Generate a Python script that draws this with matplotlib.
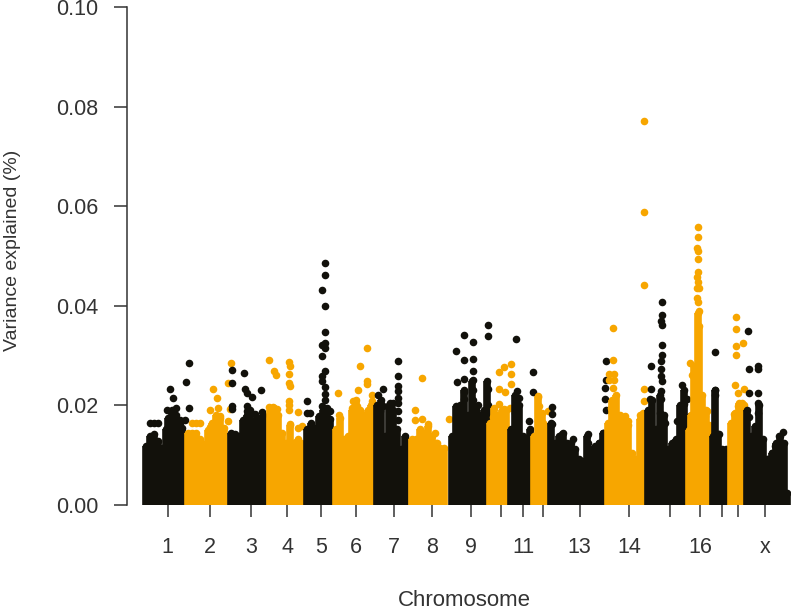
import matplotlib
matplotlib.use('Agg')
import matplotlib.pyplot as plt

# colours
black = '#12110b'
orange = '#f7a600'

# tick positions along the genome axis and their labels
tick_pos = [167.7, 210, 250.7, 287, 321, 356, 394, 432, 471.3, 500.7, 523.3, 542.7,
            579.7, 629, 669.7, 700.3, 721.7, 738.3, 765]
tick_lab = ['1', '2', '3', '4', '5', '6', '7', '8', '9', '', '11', '',
            '13', '14', '', '16', '', '', 'x']

# upper edge of the dense cloud per chromosome: (position, variance*1000)
chr1_top = [(146, 11.9), (150, 13.9), (154, 14.2), (158, 12.9), (162, 11.5), (166, 15.2), (168, 17.5), (172, 19), (176, 18), (180, 17), (182, 15.5)]
chr2_top = [(188, 14.5), (192, 14.5), (196, 14.4), (200, 13.2), (204, 12.2), (208, 15), (212, 16.5), (216, 18), (220, 17.5), (224, 15.5)]
chr3_top = [(231, 14.5), (235, 14.2), (239, 13.9), (243, 17), (247, 18), (250, 19), (255, 17), (258, 17.5), (263, 18)]
chr4_top = [(270, 19), (274, 19.5), (278, 18), (282, 14.5), (286, 12.5), (290, 16), (294, 12.5), (298, 13.2), (301, 12.5)]
chr5_top = [(307, 15.2), (311, 16.5), (315, 15.5), (319, 17.9), (323, 19), (327, 19.5), (330, 17.2)]
chr6_top = [(336, 15.2), (340, 17.5), (344, 13.2), (348, 13.9), (352, 19), (356, 21), (360, 19), (364, 18), (368, 19), (371, 20)]
chr7_top = [(377, 20), (381, 21), (385, 13.9), (389, 20), (393, 19), (397, 15.2), (401, 11.2), (405, 13.9)]
chr8_top = [(412, 13.2), (416, 13.2), (420, 15.2), (424, 14.5), (428, 15.9), (432, 13.9), (436, 12.5), (440, 11.5), (444, 11.5)]
chr9_top = [(452, 13.9), (456, 19.8), (460, 20), (464, 23), (468, 18), (472, 25), (476, 19), (480, 18), (484, 19), (487, 25)]
chr10_top = [(490, 16.5), (494, 19.5), (498, 18), (502, 19), (506, 19)]
chr11_top = [(511, 15.2), (515, 22), (519, 20), (523, 13.9), (527, 13.2), (530, 15.2)]
chr12_top = [(534, 13.9), (538, 21.9), (542, 18.5), (546, 15.9)]
chr13_top = [(551, 16.5), (555, 12.5), (559, 13.9), (563, 14.5), (567, 12.5), (571, 12.5), (575, 11.2), (579, 9.2), (583, 8.5), (587, 13.9), (591, 11.2), (595, 11.9), (599, 12.5), (603, 14.5)]
chr14_top = [(608, 16.5), (612, 21), (616, 22), (620, 18), (624, 17.5), (628, 16), (632, 10.5), (636, 9.2), (640, 17.2), (643, 18.5)]
chr15_top = [(648, 19), (652, 21), (656, 15.2), (660, 22), (664, 18), (668, 11.2), (672, 12.5), (676, 13.2), (680, 20), (684, 23)]
chr16_top = [(689, 15), (691, 18), (694, 28), (697.5, 38.5), (699, 36), (702, 22), (706, 19), (709, 16)]
chr17_top = [(713, 13.9), (715, 23), (718, 14.2), (722, 11.2), (726, 11.2)]
chr18_top = [(731, 16.5), (735, 18.5), (739, 20.5), (742, 20.5)]
chr19_top = [(747, 19), (751, 13.9), (755, 15.9), (759, 20), (763, 13.2)]
chrx_top = [(768, 9.2), (772, 10.5), (776, 12.5), (780, 13.9), (784, 12.5), (787, 2.5)]

# isolated points above the cloud
chr1_pts = [(189, 28.6), (186, 24.6), (170, 23.2), (173, 21.5), (189, 19.5), (167, 19), (176, 19.5), (172, 18.2), (150, 16.5), (154, 16.5), (158, 16.5), (185, 17), (180, 16.5), (173, 17)]
chr2_pts = [(213, 23.2), (217, 21.5), (210, 19), (218, 19.5), (192, 16.5), (196, 16.5), (200, 16.4), (220, 17.9), (228, 16.9), (210, 15.7), (217, 17.2), (228, 24.5), (231, 28.5), (230, 19.3)]
chr3_pts = [(232, 27.2), (232, 24.4), (244, 26.6), (245, 23.2), (247, 22.5), (252, 21.7), (261, 23), (232, 19.9), (232, 19.2), (247, 19.9), (245, 17.2), (255, 18.2), (262, 18.7), (247, 18.9)]
chr4_pts = [(269, 29.1), (269, 19.7), (274, 26.9), (276, 26.1), (289, 28.7), (290, 28), (289, 26.3), (289, 24.4), (290, 23.9), (289, 20.9), (289, 20), (298, 18.7), (289, 19), (273, 19.7), (277, 19.2), (298, 15.5), (302, 15.9), (290, 16.2)]
chr5_pts = [(325, 48.6), (325, 46.2), (322, 43.2), (325, 40), (325, 34.8), (325, 32.5), (322, 32.2), (325, 31.5), (322, 30), (325, 27), (322, 26), (322, 25), (325, 23.7), (325, 22.2), (325, 21), (307, 20.9), (307, 18.5), (310, 18.5), (322, 19.9), (330, 18.9)]
chr6_pts = [(367, 31.6), (360, 28), (367, 24.9), (367, 24.2), (358, 23), (338, 22.4), (372, 22), (372, 20.9), (353, 20.9), (339, 18), (357, 19.9), (372, 19.2), (352, 19.5)]
chr7_pts = [(398, 28.9), (398, 26), (398, 23.8), (398, 22.9), (383, 23.3), (378, 22.1), (398, 21.5), (390, 20.5), (393, 20.5), (398, 20.5), (383, 19.9), (390, 19.5), (398, 18.9), (398, 17), (380, 18.9)]
chr8_pts = [(422, 25.5), (415, 19), (415, 17), (422, 17.3), (428, 16.3), (435, 14.5), (449, 17.3), (437, 12.5)]
chr9_pts = [(456, 31), (457, 24.6), (464, 34.2), (473, 32.8), (488, 36.2), (488, 34), (464, 29.1), (473, 29.4), (473, 26.9), (464, 25.4), (473, 25.2), (464, 22.6), (473, 23), (473, 21), (464, 21.2), (473, 20), (478, 20), (485, 18.5), (488, 23.2), (488, 20)]
chr10_pts = [(499, 26.7), (504, 27.8), (511, 28.4), (511, 26.3), (511, 24.3), (499, 23.3), (505, 22.7), (499, 20.2), (504, 19.2), (510, 19.5), (493, 17.7), (502, 18.9)]
chr11_pts = [(516, 33.4), (517, 22.9), (519, 21.5), (517, 20.2), (529, 16.9), (515, 18.5), (533, 26.7), (533, 22.7)]
chr12_pts = [(538, 21.7), (539, 19.9), (540, 18.5), (548, 18.9), (543, 16.5)]
chr13_pts = [(552, 19.7), (552, 18.3), (552, 16.2), (562, 14.3), (573, 13.2), (588, 14.2), (588, 12.5), (599, 12.5), (603, 14.5), (582, 8.9), (592, 10.9), (606, 29), (606, 25.2), (605, 23.5), (605, 21.2), (606, 19)]
chr14_pts = [(613, 35.6), (613, 29.1), (609, 26.3), (614, 26.3), (609, 25.2), (614, 25.2), (613, 23.5), (614, 20.4), (611, 19.5), (625, 17.9), (628, 16.9), (644, 77.1), (644, 58.8), (644, 44.1), (644, 23.2), (644, 20.9), (643, 18.1), (640, 18.1), (634, 9.2)]
chr15_pts = [(662, 40.8), (662, 38.1), (661, 37), (662, 36.1), (662, 32.1), (662, 30.2), (661, 28.9), (661, 27.3), (661, 25.9), (662, 24.9), (661, 22.9), (661, 21.2), (651, 28), (651, 23.3), (650, 21.2), (650, 18.5), (660, 18.5), (665, 16.5), (682, 24), (687, 21.2), (684, 20.2), (677, 16.9), (690, 17.9)]
chr16_pts = [(697.7, 55.9), (697.7, 53.9), (696.5, 51.7), (697.7, 51.1), (697.7, 49.4), (697.7, 46.8), (696.5, 45.8), (697.5, 44.8), (696.5, 43.5), (698.5, 43.5), (696.5, 41.5), (697.5, 40.7), (698.5, 39), (690, 28.6), (692, 26.1), (707, 18.9), (705, 17.9)]
chr17_pts = [(715, 30.8), (715, 23), (715, 22), (719, 14.2)]
chr18_pts = [(735.7, 37.8), (735.7, 35.3), (735.7, 31.9), (735.7, 30.2), (742.7, 32.5), (735, 24), (738, 22.5), (744, 23.3), (738, 19.9), (744, 20), (734, 18.2)]
chr19_pts = [(748, 35), (749, 27.3), (758, 27.9), (758, 27.3), (749, 22.4), (758, 22.5), (758, 20.4), (749, 17.7), (758, 18.5)]
chrx_pts = [(783, 14.7), (779, 13.8), (775, 11.9), (772, 10.5), (767, 9.2)]

chroms = [(chr1_top, chr1_pts, black), (chr2_top, chr2_pts, orange), (chr3_top, chr3_pts, black),
          (chr4_top, chr4_pts, orange), (chr5_top, chr5_pts, black), (chr6_top, chr6_pts, orange),
          (chr7_top, chr7_pts, black), (chr8_top, chr8_pts, orange), (chr9_top, chr9_pts, black),
          (chr10_top, chr10_pts, orange), (chr11_top, chr11_pts, black), (chr12_top, chr12_pts, orange),
          (chr13_top, chr13_pts, black), (chr14_top, chr14_pts, orange), (chr15_top, chr15_pts, black),
          (chr16_top, chr16_pts, orange), (chr17_top, chr17_pts, black), (chr18_top, chr18_pts, orange),
          (chr19_top, chr19_pts, black), (chrx_top, chrx_pts, black)]

W, H = 791, 610
fig = plt.figure(figsize=(W / 100, H / 100), dpi=100)
ax = fig.add_axes([127 / W, 1 - 505 / H, (W - 127) / W, 498 / H])
ax.set_xlim(127, 791)
ax.set_ylim(0, 0.10)

for i, (top, pts, col) in enumerate(chroms):
    xs = [p[0] for p in top]
    ys = [p[1] / 1000 for p in top]
    # dense cloud: solid column up to the top dot
    ax.vlines(xs, 0, ys, color=col, lw=5.5, zorder=2 + i, clip_on=False)
    ax.scatter(xs, ys, s=30, color=col, linewidths=0, zorder=2 + i, clip_on=False)
    ax.scatter([p[0] for p in pts], [p[1] / 1000 for p in pts], s=30, color=col,
               linewidths=0, zorder=2 + i, clip_on=False)

for s in ['top', 'right', 'bottom']:
    ax.spines[s].set_visible(False)
ax.spines['left'].set_color('#333333')
ax.spines['left'].set_linewidth(1.1)
ax.spines['left'].set_zorder(1)
ax.spines['left'].set_bounds(0, 0.10)

ax.set_yticks([0, 0.02, 0.04, 0.06, 0.08, 0.10])
ax.set_yticklabels(['0.00', '0.02', '0.04', '0.06', '0.08', '0.10'],
                   fontsize=15.5, family='Liberation Sans', color='#333333')
ax.tick_params(axis='y', length=9.4, width=1.1, color='#333333', pad=11)
ax.set_xticks(tick_pos)
ax.set_xticklabels(tick_lab, fontsize=15.5, family='Liberation Sans', color='#333333')
ax.tick_params(axis='x', length=8.6, width=1.1, color='#333333', pad=14.5)

fig.text(13 / W, 1 - 250 / H, 'Variance explained (%)', rotation=90, ha='center', va='center',
         fontsize=14, family='Liberation Sans', color='#333333')
fig.text(464 / W, 1 - 601 / H, 'Chromosome', ha='center', va='center',
         fontsize=16, family='Liberation Sans', color='#333333')

plt.savefig('out.png', dpi=100)
